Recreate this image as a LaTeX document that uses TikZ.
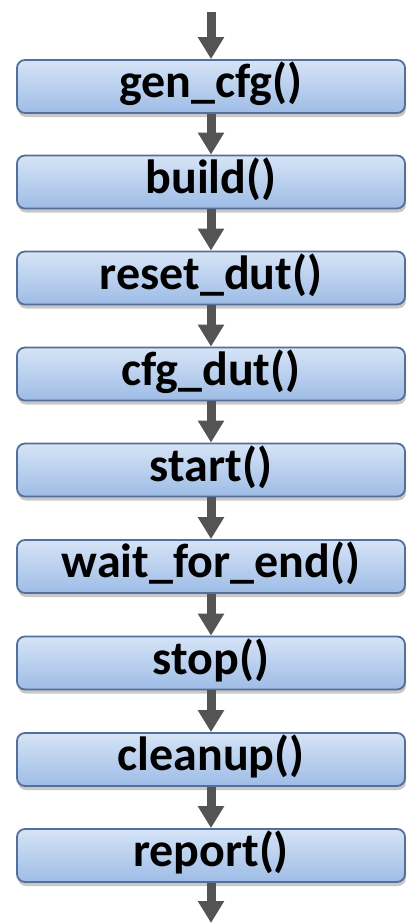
\documentclass[tikz,border=0pt]{standalone}
\usepackage{fontspec}
\setmainfont{Carlito}
\usetikzlibrary{arrows.meta,shadows}
\definecolor{boxtop}{RGB}{214,228,246}
\definecolor{boxbot}{RGB}{158,188,230}
\definecolor{boxline}{RGB}{84,112,152}
\definecolor{arrgray}{RGB}{84,84,84}
\tikzset{
  fn/.style={rectangle, rounded corners=8pt, draw=boxline, line width=1.8pt,
    top color=boxtop, bottom color=boxbot,
    minimum width=388pt, minimum height=53pt, inner sep=0pt,
    text height=30pt, text depth=8pt,
    font=\fontsize{48}{52}\selectfont\bfseries,
    drop shadow={shadow xshift=1pt, shadow yshift=-4pt, opacity=0.3, fill=black!70}},
  arr/.style={draw=arrgray, line width=9pt, -{Triangle[width=25pt,length=22pt]}}
}
\begin{document}
\begin{tikzpicture}[x=1pt,y=-1pt]
\useasboundingbox (0,0) rectangle (407,924);
\fill[white] (0,0) rectangle (407,924);
\node[fn] (b1) at (211,86.5) {gen\_cfg()};
\node[fn] (b2) at (211,182) {build()};
\node[fn] (b3) at (211,278) {reset\_dut()};
\node[fn] (b4) at (211,374) {cfg\_dut()};
\node[fn] (b5) at (211,470) {start()};
\node[fn] (b6) at (211,566.5) {wait\_for\_end()};
\node[fn] (b7) at (211,663) {stop()};
\node[fn] (b8) at (211,759.5) {cleanup()};
\node[fn] (b9) at (211,855.5) {report()};
\coordinate (top) at (211,12);
\coordinate (bot) at (211,923);
\draw[arr] (top) -- (b1.north);
\draw[arr] (b1.south) -- (b2.north);
\draw[arr] (b2.south) -- (b3.north);
\draw[arr] (b3.south) -- (b4.north);
\draw[arr] (b4.south) -- (b5.north);
\draw[arr] (b5.south) -- (b6.north);
\draw[arr] (b6.south) -- (b7.north);
\draw[arr] (b7.south) -- (b8.north);
\draw[arr] (b8.south) -- (b9.north);
\draw[arr] (b9.south) -- (bot);
\end{tikzpicture}
\end{document}
